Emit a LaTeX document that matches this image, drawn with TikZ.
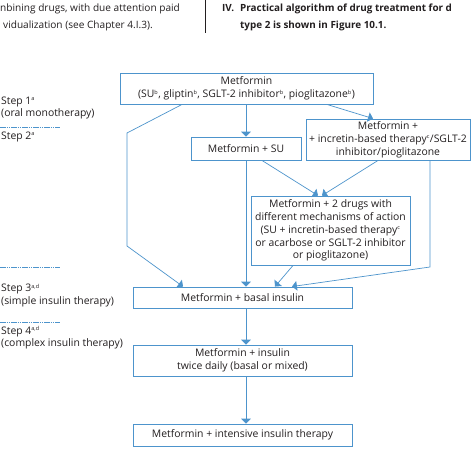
\documentclass[tikz,border=0pt]{standalone}
\usepackage{fontspec}
\setmainfont{Open Sans}
\usetikzlibrary{arrows}
\definecolor{algoblue}{RGB}{77,148,204}
\definecolor{algotext}{RGB}{35,31,32}
\newcommand{\algosup}[1]{\textsuperscript{\fontsize{5.5}{5.5}\selectfont #1}}

\begin{document}
\begin{tikzpicture}[x=1pt, y=-1pt, >=triangle 90,
  box/.style={draw=algoblue, line width=0.9pt, fill=white, align=center, inner sep=0pt,
    text=algotext, font=\fontsize{10.4}{12.8}\selectfont},
  link/.style={->, draw=algoblue, line width=0.7pt},
  steplabel/.style={anchor=west, align=left, inner sep=0pt, text=algotext,
    font=\fontsize{10.4}{12.5}\selectfont},
  stepline/.style={draw=algoblue, line width=0.8pt, dash pattern=on 1.5pt off 0.7pt},
  headtext/.style={anchor=base west, inner sep=0pt, text=algotext, font=\fontsize{10.1}{13}\selectfont}]
\fill [white] (0,0) rectangle (474,450);
\useasboundingbox (0,0) rectangle (474,450);
\begin{scope}
  \node [headtext,name=lefttop] at (0,11) {nbining drugs, with due attention paid};
  \node [headtext,name=leftbot] at (3,28) {vidualization (see Chapter 4.I.3).};
  \draw [algotext, line width=0.5pt] (205,0) -- (205,33);
  \node [headtext,font=\fontsize{9.9}{13}\selectfont\bfseries,name=roman] at (222,11) {IV.};
  \node [headtext,font=\fontsize{9.9}{13}\selectfont\bfseries,name=righttop] at (240,11) {Practical algorithm of drug treatment for d};
  \node [headtext,font=\fontsize{9.9}{13}\selectfont\bfseries,name=rightbot] at (240,28) {type 2 is shown in Figure 10.1.};
\end{scope}
\begin{scope}
  \node [steplabel,name=stepone] at (1,108) {Step 1\algosup{a}\\(oral monotherapy)};
  \draw [stepline] (0,127) -- (60,127);
  \node [steplabel,name=steptwo] at (1,137) {Step 2\algosup{a}};
  \draw [stepline] (0,267) -- (60,267);
  \node [steplabel,name=stepthree] at (1,295.5) {Step 3\algosup{a,d}\\(simple insulin therapy)};
  \draw [stepline] (0,322) -- (60,322);
  \node [steplabel,name=stepfour] at (1,338) {Step 4\algosup{a,d}\\(complex insulin therapy)};
\end{scope}
\begin{scope}
  \node [box,minimum width=253pt,minimum height=31pt,name=metf] at (246.5,88.5)
    {Metformin\\(SU\algosup{b}, gliptin\algosup{b}, SGLT-2 inhibitor\algosup{b}, pioglitazone\algosup{b})};
  \node [box,minimum width=110pt,minimum height=23pt,name=metfsu] at (246,148.5) {Metformin + SU};
  \node [box,minimum width=164pt,minimum height=41pt,name=metfinc] at (388,139.5)
    {Metformin +\\+ incretin-based therapy\algosup{c}/SGLT-2\\inhibitor/pioglitazone};
  \node [box,minimum width=159pt,minimum height=69pt,name=metftwo] at (330.5,230.5)
    {Metformin + 2 drugs with\\different mechanisms of action\\(SU + incretin-based therapy\algosup{c}\\or acarbose or SGLT-2 inhibitor\\or pioglitazone)};
  \node [box,minimum width=219pt,minimum height=21pt,name=basal] at (242.5,297.5) {Metformin + basal insulin};
  \node [box,minimum width=219pt,minimum height=31pt,name=twice] at (242.5,360.5)
    {Metformin + insulin\\twice daily (basal or mixed)};
  \node [box,minimum width=219pt,minimum height=22pt,name=intens] at (242.5,435) {Metformin + intensive insulin therapy};
\end{scope}
\begin{scope}
  \coordinate (leftbend1) at (127,133);
  \coordinate (leftbend2) at (127,246);
  \coordinate (rightbend) at (430,267);
  \draw [link] (metfsu.north |- metf.south) -- (metfsu.north);
  \draw [link] ([xshift=80.5pt]metf.south) -- ([xshift=-15pt]metfinc.north);
  \draw [link] ([xshift=-64.5pt]metf.south) -- (leftbend1) -- (leftbend2) -- ([xshift=-59.5pt]basal.north);
  \draw [link] ([xshift=16pt]metfsu.south) -- ([xshift=-12.5pt]metftwo.north);
  \draw [link] ([xshift=-10pt]metfinc.south) -- ([xshift=-8.5pt]metftwo.north);
  \draw [link] (metfsu.south) -- (metfsu.south |- basal.north);
  \draw [link] (metfinc.south -| rightbend) -- (rightbend) -- ([xshift=49.5pt]basal.north);
  \draw [link] ([xshift=-37.5pt]metftwo.south) -- ([xshift=32.5pt]basal.north);
  \draw [link] ([xshift=3.5pt]basal.south) -- ([xshift=3.5pt]twice.north);
  \draw [link] ([xshift=3.5pt]twice.south) -- ([xshift=3.5pt]intens.north);
\end{scope}
\end{tikzpicture}
\end{document}
